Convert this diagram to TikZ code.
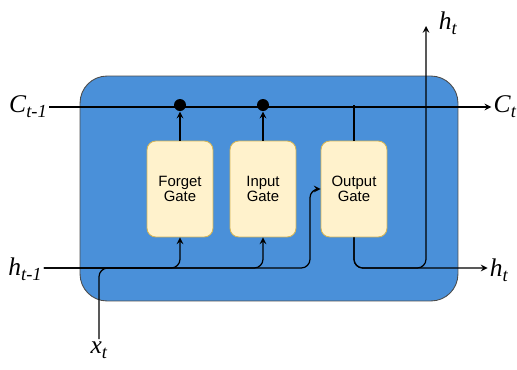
\documentclass[tikz,border=0pt]{standalone}
\usepackage{fontspec}
\setmainfont{Liberation Serif}
\newfontfamily\gatefont{Liberation Sans}
\usepackage{tikz}
\usetikzlibrary{arrows,positioning}
\usepackage{xcolor}
\definecolor{cellblue}{HTML}{4A90D9}
\definecolor{gatefill}{HTML}{FFF2CC}
\definecolor{gateline}{HTML}{D6B656}
\newcommand{\Lsig}[2]{\textit{#1}\raisebox{-.45ex}{\fontsize{10.5}{11}\selectfont\textit{#2}}}

\begin{document}
\begin{tikzpicture}[x=0.02cm,y=-0.02cm,>=stealth,line width=0.7pt,
  gate/.style={draw=gateline,fill=gatefill,rounded corners=5pt,line width=0.5pt,
    minimum width=1.32cm,minimum height=1.92cm,align=center,
    font=\gatefont\fontsize{8.5}{8.8}\selectfont},
  dot/.style={circle,fill=black,inner sep=0pt,minimum size=0.24cm},
  lbl/.style={inner sep=1pt,font=\fontsize{14.5}{16}\selectfont}]
\useasboundingbox (0,0) rectangle (517,369);
% \draw[help lines] (0,0) grid (517,369);
\node (cell) [draw=gray!60!black,fill=cellblue,rounded corners=0.54cm,line width=0.5pt,
  minimum width=7.56cm,minimum height=4.5cm] at (269,188.5) {};
%
\node (forget) [gate] at (180,189) {Forget\\Gate};
\node (input) [gate] at (263,189) {Input\\Gate};
\node (output) [gate] at (354,189) {Output\\Gate};
%
\node (cprev) [lbl] at (28,107) {\Lsig{C}{t-1}};
\node (cnext) [lbl] at (505,107) {\Lsig{C}{t}};
\node (hprev) [lbl] at (25,269) {\Lsig{h}{t-1}};
\node (hnext) [lbl] at (499,270) {\Lsig{h}{t}};
\node (htop) [lbl] at (448,23) {\Lsig{h}{t}};
\node (xin) [lbl] at (99,350) {\Lsig{x}{t}};
\coordinate (htip) at (426,26);
\coordinate (hsplit) at (426,268);
\coordinate (xjoin) at (150,268);
\coordinate (obend) at (310,189);
%
\path[->](cprev.east) edge (cnext.west);
\node (mul1) [dot] at (180,105) {};
\node (mul2) [dot] at (263,105) {};
\path[->](forget.north) edge (mul1.south);
\path[->](input.north) edge (mul2.south);
\draw (output.north) -- (output.north |- mul2);
%
\draw[->,rounded corners=5pt] (hprev.east |- xjoin) -| (forget.south);
\draw[->,rounded corners=5pt] (hprev.east |- xjoin) -| (input.south);
\draw[->,rounded corners=5pt] (hprev.east |- xjoin) -| (obend) -- (output.west);
\draw[rounded corners=5pt] (xin.north) |- (xjoin);
%
\draw[->,rounded corners=5pt] (output.south) |- (hnext.west |- hsplit);
\draw[->,rounded corners=5pt] (output.south) |- (hsplit) -- (htip);
%
\end{tikzpicture}
\end{document}
